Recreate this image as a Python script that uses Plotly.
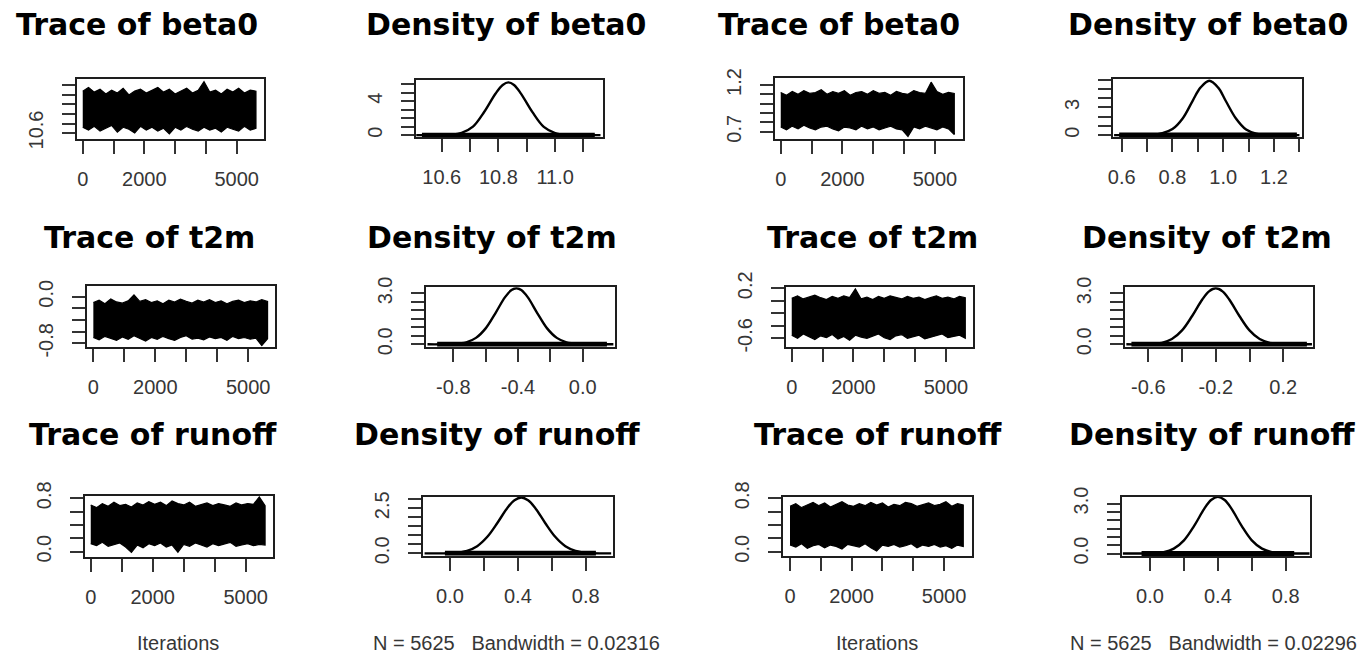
import plotly.graph_objects as go

W, H = 1370, 657

# ---------------- data ----------------
iterations = [1, 188, 375, 563, 750, 938, 1125, 1313, 1500, 1688, 1875, 2063, 2250, 2438,
              2625, 2813, 3000, 3188, 3375, 3563, 3750, 3938, 4125, 4313, 4500, 4688,
              4875, 5063, 5250, 5438, 5625]

# trace envelopes (upper / lower extent of the chain)
beta0_a_upper = [11.04, 11.08, 11.03, 11.06, 11.01, 11.05, 11.02, 11.07, 11.00, 11.04, 11.06, 11.02, 11.05, 11.08, 11.03, 11.06,
                 11.01, 11.04, 11.07, 11.02, 11.05, 11.14, 11.03, 11.05, 11.01, 11.06, 11.03, 11.07, 11.02, 11.05, 11.04]
beta0_a_lower = [10.66, 10.63, 10.67, 10.62, 10.65, 10.68, 10.61, 10.66, 10.64, 10.60, 10.67, 10.63, 10.66, 10.62, 10.65, 10.59,
                 10.66, 10.63, 10.67, 10.64, 10.62, 10.66, 10.63, 10.65, 10.61, 10.66, 10.64, 10.62, 10.67, 10.63, 10.65]
beta0_b_upper = [1.12, 1.09, 1.13, 1.10, 1.14, 1.11, 1.12, 1.15, 1.10, 1.13, 1.11, 1.14, 1.09, 1.12, 1.13, 1.10,
                 1.14, 1.11, 1.12, 1.09, 1.13, 1.11, 1.10, 1.14, 1.12, 1.11, 1.23, 1.13, 1.10, 1.12, 1.11]
beta0_b_lower = [0.75, 0.72, 0.76, 0.73, 0.77, 0.74, 0.72, 0.75, 0.76, 0.73, 0.71, 0.75, 0.74, 0.72, 0.76, 0.73,
                 0.75, 0.72, 0.74, 0.76, 0.73, 0.72, 0.65, 0.75, 0.73, 0.76, 0.74, 0.72, 0.75, 0.73, 0.67]
t2m_a_upper = [-0.10, -0.06, -0.12, -0.04, -0.09, -0.11, -0.07, 0.03, -0.08, -0.05, -0.10, -0.07, -0.12, -0.06, -0.09, -0.04,
               -0.08, -0.11, -0.06, -0.09, -0.05, -0.10, -0.07, -0.12, -0.08, -0.06, -0.10, -0.07, -0.09, -0.05, -0.08]
t2m_a_lower = [-0.70, -0.74, -0.68, -0.72, -0.75, -0.69, -0.73, -0.67, -0.71, -0.76, -0.70, -0.73, -0.68, -0.72, -0.75, -0.70,
               -0.67, -0.73, -0.71, -0.74, -0.69, -0.72, -0.70, -0.75, -0.68, -0.72, -0.70, -0.73, -0.71, -0.84, -0.72]
t2m_b_upper = [0.04, 0.08, 0.03, 0.06, 0.09, 0.05, 0.02, 0.07, 0.04, 0.08, 0.05, 0.19, 0.03, 0.06, 0.02, 0.07,
               0.04, 0.08, 0.05, 0.03, 0.07, 0.04, 0.06, 0.02, 0.05, 0.08, 0.04, 0.06, 0.03, 0.07, 0.05]
t2m_b_lower = [-0.55, -0.60, -0.53, -0.58, -0.62, -0.56, -0.59, -0.54, -0.61, -0.57, -0.63, -0.55, -0.58, -0.60, -0.56, -0.53,
               -0.59, -0.62, -0.56, -0.54, -0.60, -0.57, -0.55, -0.61, -0.58, -0.56, -0.53, -0.59, -0.57, -0.55, -0.60]
runoff_a_upper = [0.70, 0.66, 0.72, 0.68, 0.74, 0.69, 0.71, 0.67, 0.73, 0.70, 0.75, 0.71, 0.74, 0.69, 0.76, 0.72,
                  0.70, 0.74, 0.68, 0.71, 0.73, 0.69, 0.72, 0.70, 0.68, 0.73, 0.70, 0.72, 0.71, 0.82, 0.69]
runoff_a_lower = [0.12, 0.09, 0.14, 0.08, 0.11, 0.13, 0.07, -0.01, 0.10, 0.06, 0.12, 0.09, 0.13, 0.07, 0.10, -0.01,
                  0.11, 0.08, 0.13, 0.10, 0.07, 0.12, 0.09, 0.11, 0.14, 0.08, 0.10, 0.12, 0.09, 0.11, 0.10]
runoff_b_upper = [0.68, 0.72, 0.66, 0.70, 0.74, 0.69, 0.73, 0.67, 0.71, 0.75, 0.70, 0.68, 0.72, 0.69, 0.74, 0.70,
                  0.73, 0.67, 0.71, 0.69, 0.74, 0.72, 0.68, 0.70, 0.73, 0.69, 0.71, 0.75, 0.68, 0.72, 0.70]
runoff_b_lower = [0.10, 0.07, 0.12, 0.05, 0.09, 0.11, 0.06, 0.10, 0.08, 0.04, 0.11, 0.09, 0.07, 0.12, 0.06, 0.01,
                  0.10, 0.08, 0.11, 0.07, 0.09, 0.12, 0.06, 0.10, 0.08, 0.11, 0.07, 0.09, 0.05, 0.10, 0.08]

# density curves
beta0_a_dx = [10.51, 10.55, 10.59, 10.63, 10.67, 10.71, 10.75, 10.79, 10.815, 10.835, 10.855, 10.88, 10.92, 10.96, 11.00, 11.04, 11.08, 11.12, 11.16]
beta0_a_dy = [0.0, 0.0, 0.01, 0.05, 0.27, 1.0, 2.75, 4.9, 5.9, 6.2, 5.9, 4.85, 2.7, 0.97, 0.25, 0.04, 0.01, 0.0, 0.0]
beta0_b_dx = [0.57, 0.62, 0.67, 0.72, 0.76, 0.80, 0.84, 0.88, 0.91, 0.945, 0.98, 1.01, 1.05, 1.09, 1.13, 1.17, 1.22, 1.27, 1.30]
beta0_b_dy = [0.0, 0.0, 0.01, 0.03, 0.2, 0.65, 1.8, 3.75, 5.15, 5.9, 5.15, 3.7, 1.8, 0.6, 0.15, 0.02, 0.0, 0.0, 0.0]
t2m_a_dx = [-0.96, -0.88, -0.80, -0.72, -0.66, -0.60, -0.54, -0.48, -0.44, -0.41, -0.38, -0.34, -0.28, -0.22, -0.16, -0.10, -0.02, 0.06, 0.14, 0.19]
t2m_a_dy = [0.0, 0.0, 0.02, 0.12, 0.38, 0.94, 1.83, 2.78, 3.2, 3.3, 3.2, 2.78, 1.83, 0.94, 0.38, 0.12, 0.02, 0.0, 0.0, 0.0]
t2m_b_dx = [-0.73, -0.66, -0.59, -0.52, -0.46, -0.40, -0.34, -0.28, -0.24, -0.20, -0.16, -0.12, -0.06, 0.0, 0.06, 0.12, 0.19, 0.26, 0.33, 0.37]
t2m_b_dy = [0.0, 0.0, 0.02, 0.09, 0.31, 0.82, 1.67, 2.64, 3.12, 3.3, 3.12, 2.64, 1.67, 0.82, 0.31, 0.09, 0.02, 0.0, 0.0, 0.0]
runoff_a_dx = [-0.15, -0.06, 0.02, 0.10, 0.16, 0.22, 0.28, 0.34, 0.38, 0.42, 0.46, 0.50, 0.56, 0.62, 0.68, 0.74, 0.82, 0.90, 0.95]
runoff_a_dy = [0.0, 0.0, 0.02, 0.14, 0.40, 0.92, 1.70, 2.55, 2.95, 3.1, 2.95, 2.55, 1.70, 0.92, 0.40, 0.14, 0.02, 0.0, 0.0]
runoff_b_dx = [-0.16, -0.08, 0.0, 0.08, 0.14, 0.20, 0.26, 0.32, 0.36, 0.40, 0.44, 0.48, 0.54, 0.60, 0.66, 0.72, 0.80, 0.88, 0.94]
runoff_b_dy = [0.0, 0.0, 0.01, 0.08, 0.29, 0.79, 1.66, 2.69, 3.21, 3.4, 3.21, 2.69, 1.66, 0.79, 0.29, 0.08, 0.01, 0.0, 0.0]

# observation (rug) extents for density panels
beta0_a_obs = [10.53, 11.14]
beta0_b_obs = [0.59, 1.29]
t2m_a_obs = [-0.90, 0.15]
t2m_b_obs = [-0.70, 0.34]
runoff_a_obs = [-0.03, 0.86]
runoff_b_obs = [-0.05, 0.85]

# tick values and labels
iter_ticks = [0, 1000, 2000, 3000, 4000, 5000]
iter_labels = ["0", "", "2000", "", "", "5000"]
beta0_a_tr_yt = [10.6, 10.7, 10.8, 10.9, 11.0, 11.1]
beta0_a_tr_yl = ["10.6", "", "", "", "", ""]
beta0_a_de_xt = [10.6, 10.7, 10.8, 10.9, 11.0, 11.1]
beta0_a_de_xl = ["10.6", "", "10.8", "", "11.0", ""]
beta0_a_de_yt = [0, 1, 2, 3, 4, 5, 6]
beta0_a_de_yl = ["0", "", "", "", "4", "", ""]
beta0_b_tr_yt = [0.7, 0.8, 0.9, 1.0, 1.1, 1.2]
beta0_b_tr_yl = ["0.7", "", "", "", "", "1.2"]
beta0_b_de_xt = [0.6, 0.7, 0.8, 0.9, 1.0, 1.1, 1.2, 1.3]
beta0_b_de_xl = ["0.6", "", "0.8", "", "1.0", "", "1.2", ""]
beta0_b_de_yt = [0, 1, 2, 3, 4, 5, 6]
beta0_b_de_yl = ["0", "", "", "3", "", "", ""]
t2m_a_tr_yt = [-0.8, -0.6, -0.4, -0.2, 0.0]
t2m_a_tr_yl = ["-0.8", "", "", "", "0.0"]
t2m_a_de_xt = [-0.8, -0.6, -0.4, -0.2, 0.0]
t2m_a_de_xl = ["-0.8", "", "-0.4", "", "0.0"]
t2m_b_tr_yt = [-0.6, -0.4, -0.2, 0.0, 0.2]
t2m_b_tr_yl = ["-0.6", "", "", "", "0.2"]
t2m_b_de_xt = [-0.6, -0.4, -0.2, 0.0, 0.2]
t2m_b_de_xl = ["-0.6", "", "-0.2", "", "0.2"]
dens_half_yt = [0, 0.5, 1.0, 1.5, 2.0, 2.5, 3.0]
dens_30_yl = ["0.0", "", "", "", "", "", "3.0"]
dens_25_yl = ["0.0", "", "", "", "", "2.5", ""]
runoff_tr_yt = [0.0, 0.2, 0.4, 0.6, 0.8]
runoff_tr_yl = ["0.0", "", "", "", "0.8"]
runoff_de_xt = [0.0, 0.2, 0.4, 0.6, 0.8]
runoff_de_xl = ["0.0", "", "0.4", "", "0.8"]

titles = ["Trace of beta0", "Density of beta0", "Trace of beta0", "Density of beta0",
          "Trace of t2m", "Density of t2m", "Trace of t2m", "Density of t2m",
          "Trace of runoff", "Density of runoff", "Trace of runoff", "Density of runoff"]
bottom_texts = ["Iterations", "N = 5625   Bandwidth = 0.02316", "Iterations", "N = 5625   Bandwidth = 0.02296"]

# ---------------- layout (pixel boxes) ----------------
# box: left, top, right, bottom (px)
panels = [
    dict(kind="trace", box=(76.7, 79, 264, 139), xr=[-195, 5886], yr=[10.537, 11.168],
         up=beta0_a_upper, lo=beta0_a_lower, xt=iter_ticks, xl=iter_labels, yt=beta0_a_tr_yt, yl=beta0_a_tr_yl),
    dict(kind="dens", box=(416, 80, 603.3, 137.3), xr=[10.509, 11.170], yr=[-0.25, 6.48],
         dx=beta0_a_dx, dy=beta0_a_dy, obs=beta0_a_obs, xt=beta0_a_de_xt, xl=beta0_a_de_xl, yt=beta0_a_de_yt, yl=beta0_a_de_yl),
    dict(kind="trace", box=(775, 77.7, 962.7, 139.3), xr=[-185, 5898], yr=[0.619, 1.278],
         up=beta0_b_upper, lo=beta0_b_lower, xt=iter_ticks, xl=iter_labels, yt=beta0_b_tr_yt, yl=beta0_b_tr_yl),
    dict(kind="dens", box=(1112.7, 79, 1301.7, 137.3), xr=[0.5645, 1.309], yr=[-0.24, 6.09],
         dx=beta0_b_dx, dy=beta0_b_dy, obs=beta0_b_obs, xt=beta0_b_de_xt, xl=beta0_b_de_xl, yt=beta0_b_de_yt, yl=beta0_b_de_yl),
    dict(kind="trace", box=(87.3, 286, 275, 346.7), xr=[-194, 5865], yr=[-0.858, 0.184],
         up=t2m_a_upper, lo=t2m_a_lower, xt=iter_ticks, xl=iter_labels, yt=t2m_a_tr_yt, yl=t2m_a_tr_yl),
    dict(kind="dens", box=(426, 287.3, 615, 346.7), xr=[-0.969, 0.2], yr=[-0.14, 3.36],
         dx=t2m_a_dx, dy=t2m_a_dy, obs=t2m_a_obs, xt=t2m_a_de_xt, xl=t2m_a_de_xl, yt=dens_half_yt, yl=dens_30_yl),
    dict(kind="trace", box=(786, 286.7, 973.3, 346.7), xr=[-185, 5885], yr=[-0.734, 0.2256],
         up=t2m_b_upper, lo=t2m_b_lower, xt=iter_ticks, xl=iter_labels, yt=t2m_b_tr_yt, yl=t2m_b_tr_yl),
    dict(kind="dens", box=(1125, 287.3, 1313.3, 346.7), xr=[-0.738, 0.378], yr=[-0.14, 3.36],
         dx=t2m_b_dx, dy=t2m_b_dy, obs=t2m_b_obs, xt=t2m_b_de_xt, xl=t2m_b_de_xl, yt=dens_half_yt, yl=dens_30_yl),
    dict(kind="trace", box=(85, 496, 273.3, 556.7), xr=[-184, 5890], yr=[-0.075, 0.834],
         up=runoff_a_upper, lo=runoff_a_lower, xt=iter_ticks, xl=iter_labels, yt=runoff_tr_yt, yl=runoff_tr_yl),
    dict(kind="dens", box=(422.7, 496.7, 612.7, 555.7), xr=[-0.161, 0.959], yr=[-0.13, 3.144],
         dx=runoff_a_dx, dy=runoff_a_dy, obs=runoff_a_obs, xt=runoff_de_xt, xl=runoff_de_xl, yt=dens_half_yt, yl=dens_25_yl),
    dict(kind="trace", box=(783.3, 496.7, 971.7, 556), xr=[-217, 5899], yr=[-0.064, 0.824],
         up=runoff_b_upper, lo=runoff_b_lower, xt=iter_ticks, xl=iter_labels, yt=runoff_tr_yt, yl=runoff_tr_yl),
    dict(kind="dens", box=(1121.7, 496.7, 1310, 556), xr=[-0.167, 0.943], yr=[-0.15, 3.41],
         dx=runoff_b_dx, dy=runoff_b_dy, obs=runoff_b_obs, xt=runoff_de_xt, xl=runoff_de_xl, yt=dens_half_yt, yl=dens_30_yl),
]

title_pos = [(136.7, 24.5), (505.8, 24.5), (839, 24.5), (1208, 24.5),
             (149, 237.8), (491.7, 237.8), (872.5, 237.8), (1206.7, 237.8),
             (153.3, 434.5), (496.7, 434.5), (877.5, 434.5), (1211.7, 434.5)]
bottom_pos = [(178.3, 643.3), (516.7, 643.3), (876.7, 643.3), (1213.5, 643.3)]

TICK_FONT = dict(family="Liberation Sans, Arial, sans-serif", size=20, color="#363636")

fig = go.Figure()
layout = dict(width=W, height=H, margin=dict(l=0, r=0, t=0, b=0, pad=0, autoexpand=False),
              paper_bgcolor="white", plot_bgcolor="white", showlegend=False)

for i, p in enumerate(panels):
    n = i + 1
    sx = "" if n == 1 else str(n)
    left, top, right, bottom = p["box"]
    if p["kind"] == "trace":
        xs = iterations + iterations[::-1]
        ys = p["up"] + p["lo"][::-1]
        fig.add_trace(go.Scatter(x=xs, y=ys, mode="lines", fill="toself", fillcolor="black",
                                 line=dict(color="black", width=1.2), xaxis="x" + sx, yaxis="y" + sx,
                                 hoverinfo="skip"))
    else:
        fig.add_trace(go.Scatter(x=p["obs"], y=[0, 0], mode="lines",
                                 line=dict(color="black", width=5), xaxis="x" + sx, yaxis="y" + sx,
                                 hoverinfo="skip"))
        fig.add_trace(go.Scatter(x=p["dx"], y=p["dy"], mode="lines", line=dict(color="black", width=2.4, shape="spline"),
                                 xaxis="x" + sx, yaxis="y" + sx))
    common = dict(showline=True, mirror=True, linecolor="#1e1e1e", linewidth=2, showgrid=False, zeroline=False,
                  ticks="outside", ticklen=13, tickwidth=2, tickcolor="#333333", tickfont=TICK_FONT,
                  fixedrange=True, automargin=False)
    layout["xaxis" + sx] = dict(common, domain=[left / W, right / W], range=p["xr"], anchor="y" + sx,
                                tickmode="array", tickvals=p["xt"], ticktext=p["xl"], tickangle=0,
                                ticklabelstandoff=8)
    layout["yaxis" + sx] = dict(common, domain=[1 - bottom / H, 1 - top / H], range=p["yr"], anchor="x" + sx,
                                tickmode="array", tickvals=p["yt"], ticktext=p["yl"], tickangle=-90,
                                ticklabelstandoff=11)

annotations = []
for t, (cx, cy) in zip(titles, title_pos):
    annotations.append(dict(text=t, x=cx / W, y=1 - cy / H, xref="paper", yref="paper",
                            xanchor="center", yanchor="middle", showarrow=False,
                            font=dict(family="DejaVu Sans", size=30, color="black", weight="bold")))
for t, (cx, cy) in zip(bottom_texts, bottom_pos):
    annotations.append(dict(text=t.replace(" ", "\u00a0"), x=cx / W, y=1 - cy / H, xref="paper", yref="paper",
                            xanchor="center", yanchor="middle", showarrow=False,
                            font=dict(family="Liberation Sans, Arial, sans-serif", size=20, color="#363636")))
layout["annotations"] = annotations

fig.update_layout(**layout)
fig.write_html("out.html")
